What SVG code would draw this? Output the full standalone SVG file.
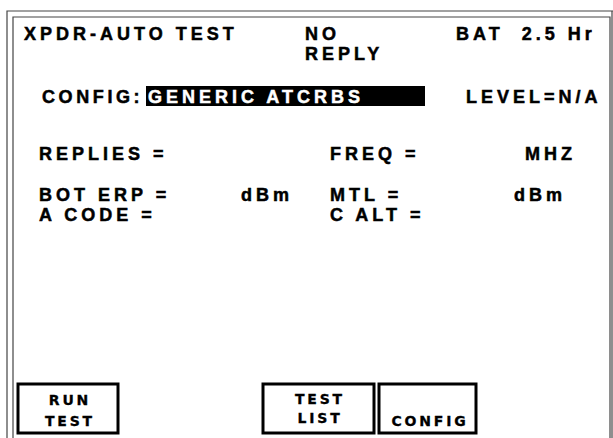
<svg xmlns="http://www.w3.org/2000/svg" width="613" height="438" viewBox="0 0 613 438">
<style>
.t{font-family:"Liberation Sans",Arial,sans-serif;font-weight:bold;font-size:18px;letter-spacing:4px;fill:#000;stroke:#000;stroke-width:0.5}
.w{fill:#fff;stroke:#fff}
.b{font-family:"DejaVu Sans",Verdana,sans-serif;font-weight:bold;font-size:14px;letter-spacing:2.8px;fill:#000;stroke:#000;stroke-width:0.3;text-anchor:middle}
.box{fill:#fff;stroke:#000;stroke-width:3}
.fr{fill:none;stroke:#444;stroke-width:1.2}
</style>
<rect width="613" height="438" fill="#fff"/>
<g id="frame">
<path class="fr" d="M7,438 V11 H613"/>
<path class="fr" d="M13,438 V17 H610 V438"/>
<path class="fr" d="M612,11 V438"/>
</g>
<g id="header">
<text class="t" x="24" y="40">XPDR-AUTO TEST</text>
<text class="t" x="305" y="40">NO</text>
<text class="t" x="305" y="60">REPLY</text>
<text class="t" x="456" y="40">BAT&#160; 2.5 Hr</text>
</g>
<g id="config">
<text class="t" x="42" y="103" style="letter-spacing:3.6px">CONFIG:</text>
<rect x="146" y="86" width="279" height="20" fill="#000"/>
<text class="t w" x="148" y="103">GENERIC ATCRBS</text>
<text class="t" x="466" y="103">LEVEL=N/A</text>
</g>
<g id="fields">
<text class="t" x="39" y="160">REPLIES =</text>
<text class="t" x="330" y="160">FREQ =</text>
<text class="t" x="525" y="160">MHZ</text>
<text class="t" x="39" y="201">BOT ERP =</text>
<text class="t" x="241" y="201">dBm</text>
<text class="t" x="330" y="201">MTL =</text>
<text class="t" x="514" y="201">dBm</text>
<text class="t" x="39" y="221">A CODE =</text>
<text class="t" x="330" y="221">C ALT =</text>
</g>
<g id="btn-run">
<rect class="box" x="18" y="384" width="100" height="49"/>
<text class="b" x="70" y="405">RUN</text>
<text class="b" x="70" y="426">TEST</text>
</g>
<g id="btn-list">
<rect class="box" x="263" y="384" width="111" height="49"/>
<text class="b" x="320" y="404">TEST</text>
<text class="b" x="320" y="423">LIST</text>
</g>
<g id="btn-config">
<rect class="box" x="379" y="384" width="97" height="49"/>
<text class="b" x="430" y="426">CONFIG</text>
</g>
<g id="connectors"></g>
</svg>
